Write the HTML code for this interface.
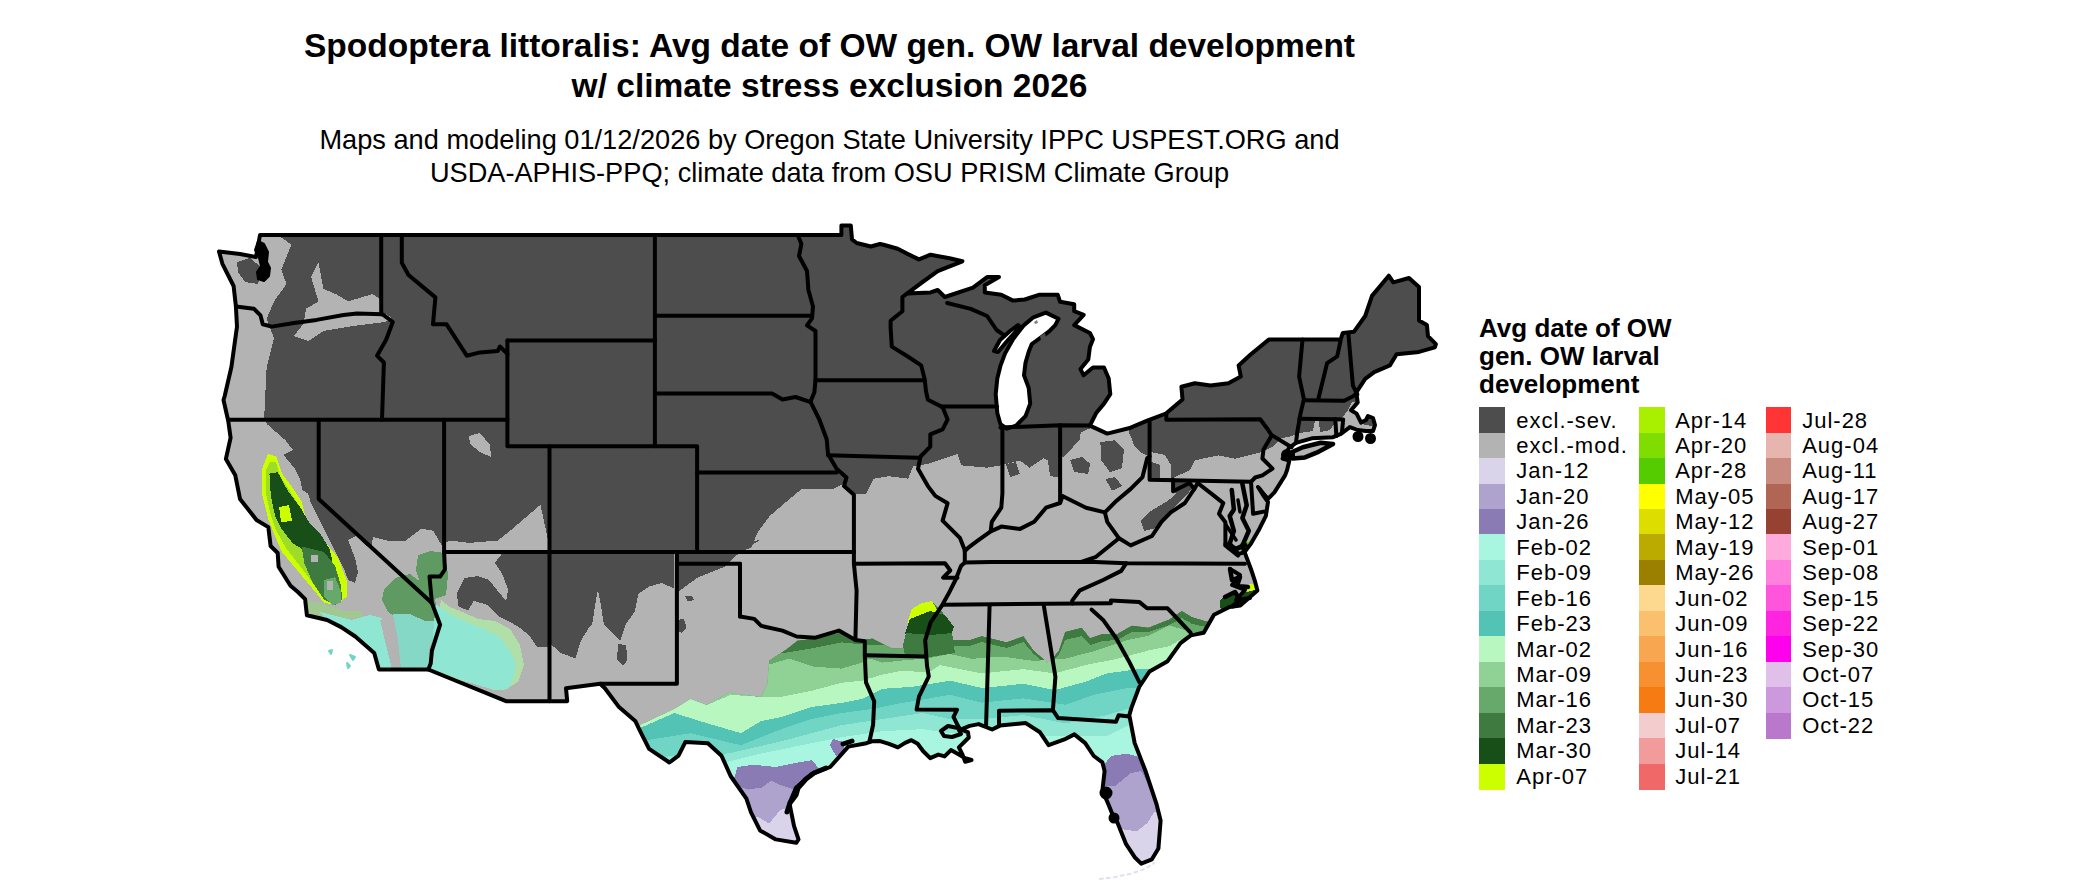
<!DOCTYPE html>
<html><head><meta charset="utf-8"><style>
html,body{margin:0;padding:0;background:#fff;width:2100px;height:892px;overflow:hidden;position:relative}
.t{position:absolute;font-family:"Liberation Sans",sans-serif;white-space:nowrap;color:#000;left:0;width:1659px;text-align:center}
.tb{font-weight:bold;font-size:33.5px}
.ts{font-size:27.2px}
.lg{position:absolute;font-family:"Liberation Sans",sans-serif;font-weight:bold;font-size:26px;left:1479px;line-height:27.9px;white-space:nowrap}
.sw{position:absolute;width:25.6px;height:26px}
.lt{position:absolute;font-family:"Liberation Sans",sans-serif;font-size:22px;letter-spacing:1.0px;line-height:28px;white-space:nowrap}
</style></head><body>
<div class="t tb" style="top:27px">Spodoptera littoralis: Avg date of OW gen. OW larval development</div>
<div class="t tb" style="top:66.7px">w/ climate stress exclusion 2026</div>
<div class="t ts" style="top:124px">Maps and modeling 01/12/2026 by Oregon State University IPPC USPEST.ORG and</div>
<div class="t ts" style="top:157px">USDA-APHIS-PPQ; climate data from OSU PRISM Climate Group</div>
<svg width="2100" height="892" viewBox="0 0 2100 892" style="position:absolute;left:0;top:0"><defs><clipPath id="lc"><path d="M219.0,251.5 L240.0,254.0 L256.0,257.0 L258.0,246.0 L260.0,235.0 L841.4,235.0 L841.4,225.5 L850.8,225.5 L852.0,239.4 L856.7,243.0 L870.8,246.5 L880.0,244.0 L883.5,244.8 L897.7,248.8 L907.0,253.6 L918.9,259.4 L930.6,254.7 L949.5,258.3 L962.4,261.3 L937.7,271.2 L921.2,283.0 L907.0,293.6 L930.6,292.4 L937.7,290.0 L944.8,297.0 L973.0,287.7 L987.1,277.1 L999.0,277.1 L984.8,285.3 L984.8,292.4 L1001.3,294.8 L1013.0,300.6 L1024.8,299.5 L1038.9,294.8 L1057.8,294.8 L1060.1,301.8 L1074.2,304.2 L1074.2,311.2 L1083.7,314.8 L1074.2,325.1 L1089.9,333.0 L1093.0,339.2 L1089.9,347.1 L1088.3,359.6 L1080.5,369.1 L1083.6,375.3 L1093.0,367.5 L1104.0,367.5 L1108.7,378.5 L1110.3,394.2 L1104.0,403.6 L1096.2,413.0 L1089.9,425.6 L1107.2,433.6 L1130.7,427.7 L1147.2,420.6 L1166.0,413.5 L1182.5,399.4 L1181.4,386.7 L1194.8,383.3 L1210.5,385.6 L1228.5,383.3 L1240.8,376.6 L1238.6,365.4 L1250.9,354.2 L1268.8,339.6 L1340.6,339.6 L1342.8,332.9 L1354.0,331.7 L1365.2,316.0 L1372.0,295.9 L1388.8,275.7 L1393.3,282.4 L1409.0,278.0 L1419.0,287.0 L1419.0,320.5 L1426.9,325.0 L1428.0,336.2 L1435.9,344.1 L1434.8,347.4 L1419.0,351.9 L1396.6,354.2 L1389.9,365.4 L1374.2,372.1 L1365.2,378.8 L1356.3,392.3 L1357.7,402.4 L1351.0,410.3 L1356.6,413.6 L1361.1,422.6 L1366.0,420.0 L1368.0,416.0 L1373.0,418.0 L1375.0,425.0 L1373.0,431.0 L1366.0,431.0 L1357.7,430.0 L1349.9,427.1 L1340.9,433.8 L1333.1,437.2 L1311.8,438.3 L1296.0,442.8 L1289.0,448.0 L1282.6,458.5 L1289.3,460.7 L1287.1,470.0 L1285.1,475.4 L1274.4,492.4 L1268.0,498.8 L1262.0,493.0 L1258.0,487.0 L1263.0,495.0 L1268.0,502.0 L1265.9,515.9 L1259.5,528.7 L1251.0,543.6 L1244.6,552.1 L1251.0,569.2 L1255.2,581.9 L1257.4,590.5 L1240.3,605.4 L1229.5,607.0 L1214.0,614.8 L1203.7,632.8 L1190.8,635.4 L1180.5,643.1 L1167.6,661.2 L1149.5,671.5 L1139.2,687.0 L1131.5,707.6 L1129.3,715.1 L1134.7,743.1 L1145.5,771.0 L1156.3,803.3 L1160.6,820.6 L1158.4,848.5 L1151.9,859.3 L1141.2,863.6 L1134.7,857.2 L1126.1,844.2 L1117.5,822.7 L1113.2,816.3 L1108.9,805.5 L1102.4,790.4 L1104.6,771.0 L1102.4,762.4 L1093.8,756.0 L1085.2,743.1 L1074.4,734.4 L1065.8,738.8 L1048.6,745.2 L1040.0,732.3 L1025.8,723.1 L1000.0,725.6 L992.1,729.5 L978.7,724.1 L969.7,725.9 L960.7,729.5 L967.9,732.2 L968.8,737.5 L958.9,747.4 L962.5,754.6 L965.2,761.7 L971.5,760.0 L965.2,758.2 L958.9,754.6 L950.9,750.1 L944.6,756.4 L938.3,754.6 L930.2,758.2 L923.0,751.0 L917.7,743.8 L911.4,740.2 L905.1,742.9 L897.9,747.4 L889.0,743.8 L880.0,741.1 L871.9,741.3 L866.4,743.2 L848.3,746.6 L830.2,767.0 L812.1,773.8 L796.2,787.4 L789.4,803.2 L794.0,825.9 L798.5,839.4 L796.2,842.8 L775.8,839.4 L760.0,830.4 L751.0,812.3 L746.4,798.7 L730.6,776.0 L721.5,755.7 L707.9,743.2 L685.3,742.1 L678.5,755.7 L669.4,762.5 L649.1,748.9 L640.0,730.8 L635.5,721.3 L619.0,707.1 L604.9,688.3 L600.2,683.8 L566.0,688.3 L567.2,701.2 L548.4,701.2 L506.0,701.2 L428.3,669.5 L378.9,669.5 L374.2,653.0 L355.3,636.5 L341.2,627.1 L327.1,620.0 L306.9,615.3 L305.1,599.2 L297.9,592.0 L290.5,585.7 L278.6,566.7 L277.7,553.0 L270.6,546.0 L268.3,527.1 L256.5,520.0 L240.0,498.9 L235.3,475.3 L225.9,458.9 L230.6,437.7 L228.3,421.2 L223.5,400.0 L224.7,396.0 L231.4,367.0 L237.0,326.6 L235.9,306.4 L233.6,286.0 L222.4,263.8Z"/></clipPath></defs><path d="M219.0,251.5 L240.0,254.0 L256.0,257.0 L258.0,246.0 L260.0,235.0 L841.4,235.0 L841.4,225.5 L850.8,225.5 L852.0,239.4 L856.7,243.0 L870.8,246.5 L880.0,244.0 L883.5,244.8 L897.7,248.8 L907.0,253.6 L918.9,259.4 L930.6,254.7 L949.5,258.3 L962.4,261.3 L937.7,271.2 L921.2,283.0 L907.0,293.6 L930.6,292.4 L937.7,290.0 L944.8,297.0 L973.0,287.7 L987.1,277.1 L999.0,277.1 L984.8,285.3 L984.8,292.4 L1001.3,294.8 L1013.0,300.6 L1024.8,299.5 L1038.9,294.8 L1057.8,294.8 L1060.1,301.8 L1074.2,304.2 L1074.2,311.2 L1083.7,314.8 L1074.2,325.1 L1089.9,333.0 L1093.0,339.2 L1089.9,347.1 L1088.3,359.6 L1080.5,369.1 L1083.6,375.3 L1093.0,367.5 L1104.0,367.5 L1108.7,378.5 L1110.3,394.2 L1104.0,403.6 L1096.2,413.0 L1089.9,425.6 L1107.2,433.6 L1130.7,427.7 L1147.2,420.6 L1166.0,413.5 L1182.5,399.4 L1181.4,386.7 L1194.8,383.3 L1210.5,385.6 L1228.5,383.3 L1240.8,376.6 L1238.6,365.4 L1250.9,354.2 L1268.8,339.6 L1340.6,339.6 L1342.8,332.9 L1354.0,331.7 L1365.2,316.0 L1372.0,295.9 L1388.8,275.7 L1393.3,282.4 L1409.0,278.0 L1419.0,287.0 L1419.0,320.5 L1426.9,325.0 L1428.0,336.2 L1435.9,344.1 L1434.8,347.4 L1419.0,351.9 L1396.6,354.2 L1389.9,365.4 L1374.2,372.1 L1365.2,378.8 L1356.3,392.3 L1357.7,402.4 L1351.0,410.3 L1356.6,413.6 L1361.1,422.6 L1366.0,420.0 L1368.0,416.0 L1373.0,418.0 L1375.0,425.0 L1373.0,431.0 L1366.0,431.0 L1357.7,430.0 L1349.9,427.1 L1340.9,433.8 L1333.1,437.2 L1311.8,438.3 L1296.0,442.8 L1289.0,448.0 L1282.6,458.5 L1289.3,460.7 L1287.1,470.0 L1285.1,475.4 L1274.4,492.4 L1268.0,498.8 L1262.0,493.0 L1258.0,487.0 L1263.0,495.0 L1268.0,502.0 L1265.9,515.9 L1259.5,528.7 L1251.0,543.6 L1244.6,552.1 L1251.0,569.2 L1255.2,581.9 L1257.4,590.5 L1240.3,605.4 L1229.5,607.0 L1214.0,614.8 L1203.7,632.8 L1190.8,635.4 L1180.5,643.1 L1167.6,661.2 L1149.5,671.5 L1139.2,687.0 L1131.5,707.6 L1129.3,715.1 L1134.7,743.1 L1145.5,771.0 L1156.3,803.3 L1160.6,820.6 L1158.4,848.5 L1151.9,859.3 L1141.2,863.6 L1134.7,857.2 L1126.1,844.2 L1117.5,822.7 L1113.2,816.3 L1108.9,805.5 L1102.4,790.4 L1104.6,771.0 L1102.4,762.4 L1093.8,756.0 L1085.2,743.1 L1074.4,734.4 L1065.8,738.8 L1048.6,745.2 L1040.0,732.3 L1025.8,723.1 L1000.0,725.6 L992.1,729.5 L978.7,724.1 L969.7,725.9 L960.7,729.5 L967.9,732.2 L968.8,737.5 L958.9,747.4 L962.5,754.6 L965.2,761.7 L971.5,760.0 L965.2,758.2 L958.9,754.6 L950.9,750.1 L944.6,756.4 L938.3,754.6 L930.2,758.2 L923.0,751.0 L917.7,743.8 L911.4,740.2 L905.1,742.9 L897.9,747.4 L889.0,743.8 L880.0,741.1 L871.9,741.3 L866.4,743.2 L848.3,746.6 L830.2,767.0 L812.1,773.8 L796.2,787.4 L789.4,803.2 L794.0,825.9 L798.5,839.4 L796.2,842.8 L775.8,839.4 L760.0,830.4 L751.0,812.3 L746.4,798.7 L730.6,776.0 L721.5,755.7 L707.9,743.2 L685.3,742.1 L678.5,755.7 L669.4,762.5 L649.1,748.9 L640.0,730.8 L635.5,721.3 L619.0,707.1 L604.9,688.3 L600.2,683.8 L566.0,688.3 L567.2,701.2 L548.4,701.2 L506.0,701.2 L428.3,669.5 L378.9,669.5 L374.2,653.0 L355.3,636.5 L341.2,627.1 L327.1,620.0 L306.9,615.3 L305.1,599.2 L297.9,592.0 L290.5,585.7 L278.6,566.7 L277.7,553.0 L270.6,546.0 L268.3,527.1 L256.5,520.0 L240.0,498.9 L235.3,475.3 L225.9,458.9 L230.6,437.7 L228.3,421.2 L223.5,400.0 L224.7,396.0 L231.4,367.0 L237.0,326.6 L235.9,306.4 L233.6,286.0 L222.4,263.8Z" fill="#4d4d4d"/><g clip-path="url(#lc)" shape-rendering="crispEdges"><path d="M200.0,232.0 L274.0,232.0 L291.3,244.7 L281.4,269.3 L286.4,284.1 L274.0,301.4 L266.6,318.7 L274.0,338.4 L266.6,368.0 L264.2,417.4 L266.7,423.8 L285.7,440.5 L292.9,450.0 L283.3,454.8 L295.2,469.0 L300.0,478.6 L302.4,490.5 L309.5,504.8 L316.7,519.0 L326.2,535.7 L333.3,547.6 L338.1,559.5 L347.6,571.4 L357.1,590.5 L366.7,604.8 L380.0,615.0 L380.0,700.0 L200.0,700.0Z" fill="#b3b3b3"/><path d="M311.0,276.7 L318.4,262.0 L323.4,289.0 L335.7,294.0 L348.0,301.4 L372.7,294.0 L380.0,299.0 L382.0,311.3 L392.0,318.0 L385.0,322.0 L353.0,326.0 L323.4,331.0 L308.6,341.0 L293.8,336.0 L303.6,323.6 L306.0,308.8 L318.4,301.4Z" fill="#b3b3b3"/><path d="M302.0,490.0 L317.3,498.5 L330.0,505.0 L346.6,506.6 L360.7,524.8 L372.8,536.9 L389.0,540.9 L405.1,540.9 L421.3,528.8 L433.4,530.8 L441.5,545.0 L450.0,540.5 L469.0,542.9 L497.6,540.5 L507.1,533.3 L523.8,519.0 L540.5,504.8 L547.6,538.1 L549.5,551.9 L676.9,551.9 L733.2,552.0 L737.7,552.3 L751.1,547.8 L757.8,532.1 L770.0,515.7 L787.3,500.9 L802.1,488.5 L834.1,488.5 L844.0,483.6 L853.9,493.5 L866.2,493.5 L873.6,478.7 L888.4,476.2 L908.1,478.7 L913.0,466.3 L927.8,463.9 L957.4,454.0 L961.2,465.3 L987.1,467.7 L1001.3,465.3 L1020.1,460.6 L1029.5,467.7 L1043.6,458.3 L1053.1,463.0 L1064.8,455.9 L1071.9,448.9 L1081.3,432.4 L1090.7,428.0 L1107.0,431.0 L1128.0,426.0 L1130.0,436.0 L1150.9,452.0 L1151.0,478.9 L1171.0,478.9 L1190.0,470.0 L1194.6,460.4 L1218.1,455.4 L1235.0,458.8 L1262.4,451.8 L1272.0,447.0 L1282.0,438.0 L1292.0,436.0 L1300.0,433.0 L1313.0,431.0 L1315.0,421.0 L1319.0,421.0 L1320.0,432.0 L1330.0,430.0 L1336.0,421.0 L1342.0,418.0 L1348.0,410.0 L1352.0,402.0 L1358.0,402.0 L1362.0,424.0 L1380.0,428.0 L1380.0,900.0 L200.0,900.0 L200.0,700.0 L380.0,700.0 L380.0,615.0 L366.7,604.8 L357.1,590.5 L347.6,571.4 L338.1,559.5 L326.2,535.7 L316.7,519.0 L309.5,504.8Z" fill="#b3b3b3"/><path d="M1385.0,373.0 L1396.0,366.0 L1408.0,365.0 L1420.0,353.0 L1400.0,354.0 L1390.0,364.0Z" fill="#b3b3b3"/><path d="M469.0,436.0 L480.0,433.0 L490.0,445.0 L491.0,457.0 L480.0,452.0 L470.0,444.0Z" fill="#b3b3b3"/><path d="M966.6,264.0 L975.0,258.0 L984.8,255.5 L983.0,260.0 L970.0,267.0Z" fill="#4d4d4d"/><path d="M237.0,262.0 L250.0,258.0 L262.0,268.0 L258.0,284.0 L245.0,282.0 L238.0,272.0Z" fill="#4d4d4d"/><path d="M1060.0,425.0 L1080.3,426.0 L1080.3,438.6 L1070.2,450.3 L1060.0,453.7Z" fill="#4d4d4d"/><path d="M676.0,620.0 L684.0,619.0 L686.6,628.0 L682.0,633.0 L676.0,630.0Z" fill="#4d4d4d"/><path d="M685.0,596.0 L692.0,595.6 L694.0,600.0 L688.0,601.5Z" fill="#4d4d4d"/><path d="M297.9,470.0 L305.7,485.7 L310.4,501.4 L318.3,517.1 L324.5,529.7 L330.8,542.2 L337.1,554.8 L343.4,567.3 L348.1,579.9 L355.0,583.0 L358.0,572.0 L355.0,558.0 L348.0,540.0 L356.0,536.0 L373.2,551.6 L318.7,499.0 L317.0,470.0Z" fill="#4d4d4d"/><path d="M317.3,498.5 L346.6,506.6 L360.7,524.8 L372.8,536.9 L371.6,548.0 L341.6,520.0Z" fill="#4d4d4d"/><path d="M502.4,553.3 L548.2,553.3 L548.2,646.7 L536.7,646.7 L529.1,635.3 L519.6,627.7 L510.0,622.0 L498.6,616.2 L487.2,604.8 L473.8,601.0 L468.1,610.5 L458.6,606.7 L456.7,593.4 L464.3,578.1 L477.6,576.2 L489.1,580.0 L496.7,589.6 L506.2,601.0 L508.1,589.6 L502.4,574.3 L494.8,562.9Z" fill="#4d4d4d"/><path d="M549.5,551.9 L674.0,551.9 L674.2,588.4 L661.6,583.0 L649.0,586.6 L638.3,593.8 L634.7,611.8 L625.7,624.3 L620.3,640.5 L604.0,625.0 L600.0,600.0 L598.0,590.0 L596.0,600.0 L592.0,625.0 L589.9,626.1 L580.9,640.5 L575.5,658.4 L561.1,653.0 L550.4,644.0Z" fill="#4d4d4d"/><path d="M618.0,644.0 L626.0,645.0 L627.5,660.0 L623.0,666.0 L617.0,660.0Z" fill="#4d4d4d"/><path d="M676.9,552.0 L760.3,540.0 L751.3,545.4 L735.2,556.1 L724.4,566.9 L697.5,577.7 L677.8,592.0Z" fill="#4d4d4d"/><path d="M1171.0,480.6 L1189.5,480.6 L1194.0,486.0 L1184.5,497.4 L1171.0,510.9 L1157.6,527.7 L1144.1,531.0 L1140.8,521.0 L1150.9,510.9 L1167.7,500.8 L1176.0,494.1Z" fill="#4d4d4d"/><path d="M1070.2,460.0 L1082.0,457.0 L1090.3,464.0 L1088.0,473.9 L1074.0,472.0Z" fill="#4d4d4d"/><path d="M1100.4,442.0 L1115.0,440.3 L1124.0,450.0 L1122.0,468.0 L1110.0,472.2 L1101.0,460.0Z" fill="#4d4d4d"/><path d="M1130.7,435.2 L1150.9,430.0 L1150.9,457.0 L1140.0,452.0 L1134.0,445.0Z" fill="#4d4d4d"/><path d="M1105.5,479.0 L1115.0,477.2 L1122.3,486.0 L1112.0,490.7Z" fill="#4d4d4d"/><path d="M1006.0,464.0 L1016.0,462.0 L1020.0,474.0 L1010.0,477.0Z" fill="#4d4d4d"/><path d="M1048.0,461.0 L1060.0,458.0 L1060.0,478.0 L1050.0,476.0Z" fill="#4d4d4d"/><path d="M1150.9,452.0 L1165.0,455.0 L1171.0,465.0 L1171.0,478.0 L1160.0,478.0 L1160.0,465.0 L1151.0,462.0Z" fill="#b3b3b3"/><path d="M451.0,557.0 L468.0,557.0 L468.0,576.0 L451.0,576.0Z" fill="#b3b3b3"/><path d="M475.7,555.0 L492.9,555.0 L492.9,568.6 L475.7,568.6Z" fill="#b3b3b3"/><clipPath id="gc"><path d="M600.0,730.0 L640.0,725.1 L674.3,709.0 L690.5,698.9 L706.6,705.0 L728.8,692.8 L761.1,696.9 L767.1,684.8 L769.2,660.5 L787.3,648.4 L797.4,640.4 L815.6,638.3 L841.8,632.3 L858.0,640.4 L872.1,638.3 L892.3,648.4 L906.4,648.4 L910.4,620.2 L918.5,606.1 L932.6,602.0 L942.7,612.1 L950.0,626.2 L952.5,640.0 L969.2,640.0 L981.7,635.9 L1006.7,642.1 L1023.4,635.9 L1033.8,650.5 L1048.4,663.0 L1058.8,650.5 L1065.1,631.7 L1081.8,627.5 L1090.1,637.9 L1102.6,633.8 L1117.2,633.8 L1131.8,625.4 L1148.5,627.5 L1169.3,619.2 L1181.8,610.8 L1192.2,617.1 L1206.8,621.3 L1300.0,621.0 L1300.0,900.0 L600.0,900.0Z"/></clipPath><g clip-path="url(#gc)"><path d="M600.0,730.0 L640.0,725.1 L674.3,709.0 L690.5,698.9 L706.6,705.0 L728.8,692.8 L761.1,696.9 L767.1,684.8 L769.2,660.5 L787.3,648.4 L797.4,640.4 L815.6,638.3 L841.8,632.3 L858.0,640.4 L872.1,638.3 L892.3,648.4 L906.4,648.4 L910.4,620.2 L918.5,606.1 L932.6,602.0 L942.7,612.1 L950.0,626.2 L952.5,640.0 L969.2,640.0 L981.7,635.9 L1006.7,642.1 L1023.4,635.9 L1033.8,650.5 L1048.4,663.0 L1058.8,650.5 L1065.1,631.7 L1081.8,627.5 L1090.1,637.9 L1102.6,633.8 L1117.2,633.8 L1131.8,625.4 L1148.5,627.5 L1169.3,619.2 L1181.8,610.8 L1192.2,617.1 L1206.8,621.3 L1300.0,621.0 L1300.0,900.0 L600.0,900.0Z" fill="#3f7a40"/><path d="M600.0,700.0 L769.0,655.0 L787.3,652.5 L811.5,648.4 L841.8,642.4 L862.0,644.4 L906.4,646.4 L926.6,652.5 L940.0,646.0 L952.5,646.0 L969.2,646.0 L981.7,642.0 L1006.7,648.0 L1023.4,642.0 L1033.8,654.0 L1048.4,666.0 L1058.8,655.0 L1065.1,640.0 L1081.8,636.0 L1090.1,645.0 L1102.6,641.0 L1117.2,640.0 L1131.8,632.0 L1148.5,632.0 L1169.3,625.0 L1181.8,618.0 L1192.2,624.0 L1206.8,627.0 L1300.0,630.0 L1300.0,900.0 L600.0,900.0Z" fill="#67a86b"/><path d="M600.0,710.0 L769.2,664.6 L789.3,658.5 L813.6,666.6 L841.8,668.6 L862.0,662.6 L870.0,658.5 L882.2,662.6 L902.4,660.5 L926.6,658.5 L950.0,654.0 L971.3,658.8 L1002.5,656.7 L1033.8,660.9 L1065.1,658.8 L1096.3,650.5 L1127.6,640.0 L1148.5,635.9 L1169.3,625.4 L1190.2,631.7 L1300.0,635.0 L1300.0,900.0 L600.0,900.0Z" fill="#90d195"/><path d="M600.0,725.0 L640.0,725.1 L674.3,709.0 L690.5,698.9 L706.6,705.0 L730.8,694.9 L761.1,696.9 L781.3,696.9 L811.5,690.8 L841.8,682.7 L862.0,680.7 L882.2,674.7 L902.4,670.6 L928.6,672.7 L940.0,665.0 L981.7,673.4 L1023.4,669.2 L1054.7,673.4 L1085.9,665.0 L1117.2,658.8 L1148.5,650.5 L1169.3,646.3 L1179.7,640.0 L1300.0,640.0 L1300.0,900.0 L600.0,900.0Z" fill="#b9f7c0"/><path d="M600.0,740.0 L640.0,728.0 L674.3,713.0 L706.6,723.1 L740.9,733.2 L761.1,721.1 L781.3,717.1 L811.5,707.0 L841.8,702.9 L862.0,698.9 L882.2,688.8 L912.4,686.8 L950.0,680.7 L981.7,688.0 L1023.4,683.8 L1054.7,690.1 L1085.9,681.7 L1106.8,673.4 L1138.0,669.2 L1300.0,665.0 L1300.0,900.0 L600.0,900.0Z" fill="#52c3b4"/><path d="M600.0,745.0 L640.0,741.3 L690.5,733.2 L740.9,745.3 L781.3,729.2 L811.5,719.1 L841.8,713.0 L872.1,709.0 L902.4,702.9 L950.0,694.9 L981.7,702.6 L1023.4,698.4 L1065.1,704.7 L1096.3,694.2 L1127.6,688.0 L1300.0,680.0 L1300.0,900.0 L600.0,900.0Z" fill="#70d5c5"/><path d="M600.0,760.0 L728.8,753.4 L781.3,741.3 L811.5,733.2 L841.8,725.1 L882.2,719.1 L922.5,713.0 L950.0,719.1 L981.7,719.2 L1023.4,715.1 L1065.1,723.4 L1106.8,715.1 L1127.6,708.8 L1300.0,700.0 L1300.0,900.0 L600.0,900.0Z" fill="#8fe6d2"/><path d="M600.0,770.0 L728.8,761.5 L761.1,753.4 L801.5,745.3 L841.8,737.2 L882.2,731.2 L922.5,729.2 L950.0,733.2 L1000.0,735.0 L1065.1,735.9 L1106.8,735.9 L1127.6,725.5 L1300.0,720.0 L1300.0,900.0 L600.0,900.0Z" fill="#a8f5e0"/></g><path d="M700.0,900.0 L737.4,767.0 L753.2,764.7 L775.8,767.0 L798.5,762.5 L812.1,760.2 L820.0,770.0 L810.0,900.0Z" fill="#8a7bb4"/><path d="M829.7,745.0 L833.0,739.0 L843.8,742.1 L845.0,752.0 L836.0,756.0Z" fill="#8a7bb4"/><path d="M1090.0,900.0 L1100.0,770.0 L1111.0,756.0 L1126.0,753.8 L1137.0,756.0 L1143.3,764.6 L1149.8,775.3 L1170.0,780.0 L1170.0,900.0Z" fill="#8a7bb4"/><path d="M700.0,900.0 L735.1,785.1 L748.7,789.6 L762.3,787.4 L771.3,780.6 L780.4,785.1 L794.0,789.6 L803.0,780.6 L812.0,778.3 L830.0,775.0 L830.0,900.0Z" fill="#ada3cc"/><path d="M1090.0,900.0 L1095.0,790.0 L1104.6,786.1 L1115.3,786.1 L1130.4,773.2 L1141.2,771.0 L1152.0,790.4 L1170.0,795.0 L1170.0,900.0Z" fill="#ada3cc"/><path d="M720.0,900.0 L750.0,818.0 L757.7,816.8 L769.1,823.6 L780.4,810.0 L794.0,805.5 L810.0,805.0 L810.0,900.0Z" fill="#dad4ea"/><path d="M1100.0,900.0 L1110.0,830.0 L1121.8,829.2 L1136.9,831.3 L1147.6,822.7 L1154.1,812.0 L1170.0,810.0 L1170.0,900.0Z" fill="#dad4ea"/><path d="M907.0,623.0 L912.0,609.0 L922.0,603.0 L932.0,601.0 L938.0,611.0 L942.0,619.0 L930.0,625.0Z" fill="#ccff00"/><path d="M905.0,633.0 L910.0,619.0 L930.0,611.0 L945.0,615.0 L954.0,627.0 L950.0,639.0 L930.0,642.0 L908.0,641.0Z" fill="#184f18"/><path d="M903.0,645.0 L906.0,633.0 L930.0,635.0 L952.0,633.0 L955.0,653.0 L930.0,657.0 L905.0,655.0Z" fill="#3f7a40"/><path d="M268.0,454.0 L276.4,456.8 L282.0,473.6 L290.4,484.8 L301.6,501.6 L307.2,524.0 L324.0,540.9 L338.0,557.7 L346.5,580.0 L346.5,596.9 L335.2,605.3 L324.0,602.5 L310.0,585.7 L296.0,568.9 L282.0,552.0 L273.6,532.5 L268.0,518.4 L262.4,496.0 L262.4,468.0Z" fill="#ccff00"/><path d="M270.0,462.0 L276.0,462.0 L280.0,476.0 L288.0,488.0 L298.0,504.0 L304.0,524.0 L318.0,540.0 L330.0,556.0 L338.0,575.0 L340.0,592.0 L330.0,600.0 L318.0,590.0 L300.0,566.0 L286.0,548.0 L276.0,530.0 L270.0,512.0 L266.0,494.0 L266.0,470.0Z" fill="#9fdc2a"/><path d="M269.4,473.6 L277.8,472.2 L287.6,490.4 L300.2,507.2 L310.0,524.0 L321.2,535.2 L329.6,549.3 L332.4,560.5 L321.2,560.5 L307.2,552.0 L293.2,543.7 L282.0,529.6 L275.0,515.6 L270.8,496.0Z" fill="#184f18"/><path d="M279.2,507.2 L289.0,505.0 L292.0,521.0 L281.0,522.0Z" fill="#ccff00"/><path d="M301.6,546.5 L324.0,552.0 L335.2,566.0 L340.9,585.7 L342.3,599.7 L335.2,605.3 L324.0,599.7 L312.8,582.9 L304.4,563.3Z" fill="#3f7a40"/><path d="M324.0,580.0 L335.2,577.3 L340.9,591.3 L340.9,602.5 L332.4,605.3 L324.0,596.9Z" fill="#67a86b"/><path d="M311.0,555.0 L318.0,555.0 L318.0,562.0 L311.0,562.0Z" fill="#b3b3b3"/><path d="M327.0,581.0 L333.0,581.0 L333.0,590.0 L327.0,590.0Z" fill="#b3b3b3"/><path d="M305.0,600.0 L320.0,603.0 L345.0,611.0 L362.0,611.0 L362.0,618.0 L335.0,619.0 L310.0,614.0Z" fill="#a0c890"/><path d="M320.0,612.0 L351.7,620.0 L369.7,615.0 L382.0,618.0 L386.0,635.0 L392.0,672.0 L370.0,672.0 L330.0,625.0Z" fill="#8fe6d2"/><path d="M380.0,620.0 L389.0,617.0 L397.0,640.0 L400.0,669.0 L392.0,669.0 L386.0,645.0Z" fill="#b3b3b3"/><path d="M384.0,590.0 L395.0,578.0 L410.0,574.0 L425.0,585.0 L435.0,600.0 L442.0,622.0 L430.0,628.0 L415.0,618.0 L400.0,620.0 L388.0,612.0 L382.0,600.0Z" fill="#5f9a62"/><path d="M393.0,614.0 L410.0,614.0 L425.0,621.0 L438.0,621.0 L441.0,624.0 L434.0,637.0 L429.0,648.0 L430.0,658.0 L427.0,669.0 L401.0,669.0 L398.0,640.0Z" fill="#86d8c6"/><path d="M441.0,600.0 L450.0,607.0 L465.0,613.0 L478.0,619.0 L495.0,621.0 L510.0,629.0 L520.0,645.0 L524.0,665.0 L518.0,682.0 L504.0,690.0 L430.0,674.0Z" fill="#b0dfa8"/><path d="M435.7,604.0 L449.1,613.4 L464.3,621.0 L483.4,628.7 L498.6,636.3 L508.0,647.7 L515.7,662.0 L513.8,677.2 L508.0,688.6 L494.8,690.5 L430.0,669.5Z" fill="#8fe6d2"/><path d="M418.0,555.0 L430.0,551.0 L445.0,553.0 L448.0,575.0 L446.0,595.0 L432.0,600.0 L422.0,590.0 L416.0,570.0Z" fill="#5f9a62"/><path d="M1240.0,589.0 L1250.0,584.0 L1256.0,585.0 L1259.0,590.0 L1258.0,597.0 L1254.0,590.0 L1244.0,592.0Z" fill="#ccff00"/><path d="M1219.6,601.0 L1225.9,595.6 L1238.4,593.8 L1254.6,590.2 L1257.3,595.6 L1252.8,601.0 L1240.2,608.2 L1227.7,611.7 L1220.5,608.2Z" fill="#184f18"/><path d="M1240.0,543.0 L1252.0,541.0 L1253.0,550.0 L1246.0,553.0 L1240.0,550.0Z" fill="#55cc00"/></g><path d="M1045.9,312.6 L1058.5,318.8 L1055.3,325.1 L1049.1,331.4 L1042.8,336.1 L1031.8,344.0 L1028.7,351.8 L1025.5,362.8 L1024.0,375.3 L1028.7,387.9 L1030.2,403.6 L1025.5,416.1 L1016.1,425.6 L1006.7,428.7 L1000.4,424.0 L997.3,413.0 L995.7,394.2 L997.3,378.5 L1000.4,365.9 L1005.1,353.4 L1013.0,339.2 L1024.0,325.1 L1033.4,317.3Z" fill="#fff" stroke="#000" stroke-width="4" stroke-linejoin="round"/><path d="M994.0,351.0 L1000.0,340.0 L1010.0,331.0 L1018.0,325.0 L1020.0,327.0 L1008.0,340.0 L998.0,352.0Z" fill="#fff" stroke="#000" stroke-width="4" stroke-linejoin="round"/><g fill="none" stroke="#000" stroke-width="4" stroke-linejoin="round" stroke-linecap="round"><path d="M235.9,306.4 L253.8,308.7 L260.5,315.4 L262.8,324.3 L271.7,326.6 L294.0,323.0 L316.6,319.9 L343.5,315.0 L357.0,313.6 L382.7,314.3"/><path d="M381.2,235.0 L381.2,314.3"/><path d="M382.7,314.3 L392.8,322.0 L386.0,340.0 L377.0,355.7 L383.9,362.5 L382.0,419.8"/><path d="M401.8,235.0 L401.8,262.7 L408.5,275.0 L435.4,297.4 L433.0,324.3 L446.6,324.3 L466.8,355.7 L480.0,352.4 L497.7,351.0 L500.0,346.5 L507.4,353.8"/><path d="M228.3,419.8 L507.4,419.8"/><path d="M318.7,419.8 L318.7,499.0 L431.9,603.0"/><path d="M444.1,419.8 L444.1,551.9 L444.9,569.5 L440.1,576.6 L429.5,576.6 L431.9,603.0 L440.1,624.7 L431.9,650.6 L430.7,663.6 L428.3,669.5"/><path d="M507.4,340.6 L507.4,446.2 L549.5,446.2 L549.5,701.2"/><path d="M444.1,551.9 L853.9,551.9"/><path d="M507.4,340.6 L654.9,340.6"/><path d="M654.9,235.0 L654.9,446.2"/><path d="M549.5,446.2 L697.1,446.2 L697.1,551.9"/><path d="M697.1,472.6 L836.6,472.6"/><path d="M654.9,315.8 L812.0,315.8"/><path d="M654.9,393.4 L772.0,393.4 L782.5,399.5 L795.5,397.0 L810.7,402.2"/><path d="M797.8,235.0 L801.4,244.0 L799.0,256.0 L807.0,271.0 L808.4,290.0 L813.0,306.5 L812.0,318.3 L807.0,325.4 L815.5,331.0 L815.5,379.5 L814.4,392.3 L810.7,401.0"/><path d="M815.5,380.2 L924.7,380.2"/><path d="M810.7,402.2 L819.3,419.5 L826.7,439.2 L828.0,454.0 L836.6,468.8 L846.5,477.4 L844.0,486.1 L853.9,494.7 L853.9,563.7 L856.6,590.6 L855.4,640.0 L864.8,641.2 L864.8,655.3 L866.0,682.4 L874.2,701.3 L873.1,724.8 L869.5,741.3"/><path d="M828.0,455.2 L918.0,457.7"/><path d="M853.9,563.7 L945.0,563.3 L950.3,570.5 L943.1,577.7 L957.5,577.7"/><path d="M907.0,293.6 L902.4,297.0 L902.4,311.2 L890.6,320.7 L890.6,327.7 L891.8,346.6 L907.0,356.0 L921.2,365.4 L924.7,379.5 L926.0,391.3 L927.9,399.7 L942.6,407.1 L947.6,419.5 L942.6,429.3 L930.3,434.3 L930.3,446.6 L920.5,456.5 L918.0,468.8 L927.9,486.1 L935.3,495.9 L947.6,503.3 L942.6,520.6 L959.9,537.8 L964.8,550.2 L964.8,562.5 L961.0,566.0 L955.7,579.5 L948.5,593.8 L941.4,606.4 L930.6,622.5 L925.2,640.4 L927.0,665.6 L928.8,676.3 L919.0,696.6 L916.6,709.5 L957.1,709.7 L953.5,716.9 L958.0,725.9 L960.7,730.0"/><path d="M864.8,655.3 L926.0,656.5"/><path d="M740.0,616.5 L754.2,618.9 L761.2,625.9 L782.4,630.6 L796.6,636.5 L815.4,637.7 L838.9,630.6 L855.4,640.0"/><path d="M740.0,563.7 L740.0,616.5"/><path d="M676.9,563.7 L740.0,563.7"/><path d="M676.9,551.9 L676.9,683.8 L600.2,683.8"/><path d="M941.0,406.6 L997.0,406.6"/><path d="M947.1,303.0 L970.7,308.9 L987.1,316.0 L996.6,330.0 L1003.6,334.8"/><path d="M1002.4,427.7 L1002.4,493.6 L1001.3,507.7 L991.8,521.8 L990.7,531.3"/><path d="M964.8,551.0 L968.3,547.7 L977.7,540.7 L990.7,531.3 L1001.3,526.6 L1020.1,528.9 L1034.2,521.8 L1046.0,507.7 L1060.1,503.0 L1062.5,496.0 L1071.9,500.7 L1086.0,507.7 L1104.9,512.4 L1116.6,500.7 L1130.7,488.9 L1142.5,477.1 L1147.2,458.3 L1149.6,456.3"/><path d="M1060.1,425.3 L1060.1,500.7"/><path d="M1000.4,427.5 L1060.1,425.3 L1089.9,425.6"/><path d="M1149.6,420.6 L1149.6,479.7 L1251.0,481.8"/><path d="M964.8,562.5 L990.7,561.9 L1095.0,561.9 L1126.0,563.2 L1245.0,563.8"/><path d="M1104.9,512.4 L1107.2,521.8 L1119.0,538.3 L1095.4,557.2 L1081.3,561.9"/><path d="M1119.0,538.3 L1130.7,545.4 L1152.0,536.0 L1161.4,521.8 L1170.8,512.4 L1184.9,503.0 L1194.3,488.9 L1189.6,483.0 L1173.1,491.2 L1173.1,479.5"/><path d="M1194.3,488.9 L1197.7,483.0 L1212.6,494.6 L1223.3,503.1 L1219.0,513.8 L1225.4,522.3 L1225.4,535.1 L1225.4,545.7 L1238.2,554.2 L1244.6,552.1"/><path d="M1251.0,481.8 L1253.1,513.8 L1263.8,511.6"/><path d="M1271.4,436.1 L1263.5,449.5 L1262.4,458.5 L1272.5,468.6 L1262.4,475.3 L1255.2,477.5 L1251.0,481.8"/><path d="M1166.3,413.8 L1166.3,419.8 L1260.2,419.2 L1266.9,428.2 L1271.4,434.9 L1291.6,447.3"/><path d="M1302.5,339.6 L1299.1,376.6 L1303.9,399.1 L1300.5,413.6 L1297.2,432.7 L1296.0,442.8"/><path d="M1340.6,340.7 L1337.2,356.4 L1327.1,363.1 L1318.2,399.5"/><path d="M1348.4,334.0 L1352.9,385.6 L1357.4,394.5"/><path d="M1303.9,400.2 L1344.3,400.7 L1352.1,396.8 L1356.6,393.5"/><path d="M1299.4,418.7 L1335.3,419.2 L1343.2,419.4 L1342.0,431.6"/><path d="M1335.3,419.2 L1336.4,436.1"/><path d="M943.0,604.7 L1110.9,603.2"/><path d="M1110.9,600.6 L1139.2,601.9 L1147.0,608.3 L1167.6,608.3 L1190.8,632.8"/><path d="M1126.3,563.2 L1121.2,570.9 L1103.1,580.0 L1079.9,590.3 L1072.2,600.6 L1072.2,603.5"/><path d="M1091.5,609.6 L1103.1,619.9 L1116.0,638.0 L1128.9,661.2 L1139.2,681.8"/><path d="M1043.8,605.5 L1055.4,676.7 L1052.9,710.2"/><path d="M999.0,724.0 L999.0,710.7 L1052.9,710.2 L1058.0,717.9 L1116.0,721.8 L1118.6,715.3 L1128.9,716.6"/><path d="M989.6,605.0 L986.1,724.8"/><path d="M219.0,251.5 L240.0,254.0 L256.0,257.0 L258.0,246.0 L260.0,235.0 L841.4,235.0 L841.4,225.5 L850.8,225.5 L852.0,239.4 L856.7,243.0 L870.8,246.5 L880.0,244.0 L883.5,244.8 L897.7,248.8 L907.0,253.6 L918.9,259.4 L930.6,254.7 L949.5,258.3 L962.4,261.3 L937.7,271.2 L921.2,283.0 L907.0,293.6 L930.6,292.4 L937.7,290.0 L944.8,297.0 L973.0,287.7 L987.1,277.1 L999.0,277.1 L984.8,285.3 L984.8,292.4 L1001.3,294.8 L1013.0,300.6 L1024.8,299.5 L1038.9,294.8 L1057.8,294.8 L1060.1,301.8 L1074.2,304.2 L1074.2,311.2 L1083.7,314.8 L1074.2,325.1 L1089.9,333.0 L1093.0,339.2 L1089.9,347.1 L1088.3,359.6 L1080.5,369.1 L1083.6,375.3 L1093.0,367.5 L1104.0,367.5 L1108.7,378.5 L1110.3,394.2 L1104.0,403.6 L1096.2,413.0 L1089.9,425.6 L1107.2,433.6 L1130.7,427.7 L1147.2,420.6 L1166.0,413.5 L1182.5,399.4 L1181.4,386.7 L1194.8,383.3 L1210.5,385.6 L1228.5,383.3 L1240.8,376.6 L1238.6,365.4 L1250.9,354.2 L1268.8,339.6 L1340.6,339.6 L1342.8,332.9 L1354.0,331.7 L1365.2,316.0 L1372.0,295.9 L1388.8,275.7 L1393.3,282.4 L1409.0,278.0 L1419.0,287.0 L1419.0,320.5 L1426.9,325.0 L1428.0,336.2 L1435.9,344.1 L1434.8,347.4 L1419.0,351.9 L1396.6,354.2 L1389.9,365.4 L1374.2,372.1 L1365.2,378.8 L1356.3,392.3 L1357.7,402.4 L1351.0,410.3 L1356.6,413.6 L1361.1,422.6 L1366.0,420.0 L1368.0,416.0 L1373.0,418.0 L1375.0,425.0 L1373.0,431.0 L1366.0,431.0 L1357.7,430.0 L1349.9,427.1 L1340.9,433.8 L1333.1,437.2 L1311.8,438.3 L1296.0,442.8 L1289.0,448.0 L1282.6,458.5 L1289.3,460.7 L1287.1,470.0 L1285.1,475.4 L1274.4,492.4 L1268.0,498.8 L1262.0,493.0 L1258.0,487.0 L1263.0,495.0 L1268.0,502.0 L1265.9,515.9 L1259.5,528.7 L1251.0,543.6 L1244.6,552.1 L1251.0,569.2 L1255.2,581.9 L1257.4,590.5 L1240.3,605.4 L1229.5,607.0 L1214.0,614.8 L1203.7,632.8 L1190.8,635.4 L1180.5,643.1 L1167.6,661.2 L1149.5,671.5 L1139.2,687.0 L1131.5,707.6 L1129.3,715.1 L1134.7,743.1 L1145.5,771.0 L1156.3,803.3 L1160.6,820.6 L1158.4,848.5 L1151.9,859.3 L1141.2,863.6 L1134.7,857.2 L1126.1,844.2 L1117.5,822.7 L1113.2,816.3 L1108.9,805.5 L1102.4,790.4 L1104.6,771.0 L1102.4,762.4 L1093.8,756.0 L1085.2,743.1 L1074.4,734.4 L1065.8,738.8 L1048.6,745.2 L1040.0,732.3 L1025.8,723.1 L1000.0,725.6 L992.1,729.5 L978.7,724.1 L969.7,725.9 L960.7,729.5 L967.9,732.2 L968.8,737.5 L958.9,747.4 L962.5,754.6 L965.2,761.7 L971.5,760.0 L965.2,758.2 L958.9,754.6 L950.9,750.1 L944.6,756.4 L938.3,754.6 L930.2,758.2 L923.0,751.0 L917.7,743.8 L911.4,740.2 L905.1,742.9 L897.9,747.4 L889.0,743.8 L880.0,741.1 L871.9,741.3 L866.4,743.2 L848.3,746.6 L830.2,767.0 L812.1,773.8 L796.2,787.4 L789.4,803.2 L794.0,825.9 L798.5,839.4 L796.2,842.8 L775.8,839.4 L760.0,830.4 L751.0,812.3 L746.4,798.7 L730.6,776.0 L721.5,755.7 L707.9,743.2 L685.3,742.1 L678.5,755.7 L669.4,762.5 L649.1,748.9 L640.0,730.8 L635.5,721.3 L619.0,707.1 L604.9,688.3 L600.2,683.8 L566.0,688.3 L567.2,701.2 L548.4,701.2 L506.0,701.2 L428.3,669.5 L378.9,669.5 L374.2,653.0 L355.3,636.5 L341.2,627.1 L327.1,620.0 L306.9,615.3 L305.1,599.2 L297.9,592.0 L290.5,585.7 L278.6,566.7 L277.7,553.0 L270.6,546.0 L268.3,527.1 L256.5,520.0 L240.0,498.9 L235.3,475.3 L225.9,458.9 L230.6,437.7 L228.3,421.2 L223.5,400.0 L224.7,396.0 L231.4,367.0 L237.0,326.6 L235.9,306.4 L233.6,286.0 L222.4,263.8Z"/><path d="M1226,544 L1236,549 L1245,545" stroke-width="5"/><path d="M1230,569 L1232,580 L1240,577 L1237,586 L1248,587" stroke-width="4.5"/><path d="M1225,597 L1235,592 L1240,600 L1233,606" stroke-width="4.5"/><path d="M329,651 L332,650 L331,654Z M350,655 L355,657 L353,660Z M347,663 L350,666 L348,668Z" fill="#70d5c5" stroke="#70d5c5" stroke-width="2"/><path d="M1040,336 L1045,333 L1047,342 L1042,345Z" fill="#4d4d4d" stroke="none"/><path d="M1034,322 L1037,320 L1038,323 L1035,324Z" fill="#808080" stroke="none"/><circle cx="1287" cy="455" r="4" fill="#000"/><circle cx="1358" cy="436.5" r="3.5" fill="#000"/><circle cx="1370.5" cy="438.5" r="3.5" fill="#000"/><path d="M941,731 L948,726 L958,728 L961,734 L952,737 L944,736Z"/><path d="M787,812 L790,803 L796,795 L798,788 L806,779 L814,773 L826,768" stroke-width="5"/><path d="M843,744 L852,741" stroke-width="5"/><circle cx="1106" cy="793" r="4.5" fill="#000"/><circle cx="1114" cy="818" r="3.5" fill="#000"/><path d="M1100,879 L1115,877 L1130,874 L1145,869 L1154,863" stroke="#e4dff0" stroke-width="2" stroke-dasharray="3 4"/><path d="M1292.7,451.8 L1302.8,447.3 L1320.7,442.8 L1333.1,443.9 L1318.5,451.8 L1305,457.4 L1292.7,458.5Z" fill="#b3b3b3" stroke-width="4.5"/><path d="M1231.8,490 L1233.9,509.5 L1229.7,515.9 L1233.9,530.8 L1229.7,543.6 L1238.2,554.2" stroke-width="4.5"/><path d="M1242.4,484 L1246.7,505.2 L1242.4,518 L1248.8,530.8 L1242.4,545.7 L1244.6,552.1" stroke-width="4.5"/><path d="M1226,525 L1236,540 M1228,548 L1238,556 M1238,500 L1240,512" stroke-width="3.5"/><path d="M1259,488 L1266,497"/><path d="M1230,569 L1240,575 L1232,585 L1245,590 L1236,600 L1250,598"/><path d="M258,241 L264,244 L268,252 L267,262 L270,268 L269,276 L264,281 L258,279 L257,272 L261,266 L259,258 L255,250Z" fill="#000" stroke="#000" stroke-width="2"/></g></svg>
<div class="lg" style="top:315px">Avg date of OW<br>gen. OW larval<br>development</div>
<div class="sw" style="left:1479.2px;top:407.20px;background:#4d4d4d"></div><div class="lt" style="left:1516.3px;top:406.50px">excl.-sev.</div><div class="sw" style="left:1479.2px;top:432.65px;background:#b3b3b3"></div><div class="lt" style="left:1516.3px;top:431.95px">excl.-mod.</div><div class="sw" style="left:1479.2px;top:458.10px;background:#dad4ea"></div><div class="lt" style="left:1516.3px;top:457.40px">Jan-12</div><div class="sw" style="left:1479.2px;top:483.55px;background:#ada3cc"></div><div class="lt" style="left:1516.3px;top:482.85px">Jan-20</div><div class="sw" style="left:1479.2px;top:509.00px;background:#8a7bb4"></div><div class="lt" style="left:1516.3px;top:508.30px">Jan-26</div><div class="sw" style="left:1479.2px;top:534.45px;background:#a8f5e0"></div><div class="lt" style="left:1516.3px;top:533.75px">Feb-02</div><div class="sw" style="left:1479.2px;top:559.90px;background:#8fe6d2"></div><div class="lt" style="left:1516.3px;top:559.20px">Feb-09</div><div class="sw" style="left:1479.2px;top:585.35px;background:#70d5c5"></div><div class="lt" style="left:1516.3px;top:584.65px">Feb-16</div><div class="sw" style="left:1479.2px;top:610.80px;background:#52c3b4"></div><div class="lt" style="left:1516.3px;top:610.10px">Feb-23</div><div class="sw" style="left:1479.2px;top:636.25px;background:#b9f7c0"></div><div class="lt" style="left:1516.3px;top:635.55px">Mar-02</div><div class="sw" style="left:1479.2px;top:661.70px;background:#90d195"></div><div class="lt" style="left:1516.3px;top:661.00px">Mar-09</div><div class="sw" style="left:1479.2px;top:687.15px;background:#67a86b"></div><div class="lt" style="left:1516.3px;top:686.45px">Mar-16</div><div class="sw" style="left:1479.2px;top:712.60px;background:#3f7a40"></div><div class="lt" style="left:1516.3px;top:711.90px">Mar-23</div><div class="sw" style="left:1479.2px;top:738.05px;background:#184f18"></div><div class="lt" style="left:1516.3px;top:737.35px">Mar-30</div><div class="sw" style="left:1479.2px;top:763.50px;background:#ccff00"></div><div class="lt" style="left:1516.3px;top:762.80px">Apr-07</div><div class="sw" style="left:1639.0px;top:407.20px;background:#a8ef00"></div><div class="lt" style="left:1675.2px;top:406.50px">Apr-14</div><div class="sw" style="left:1639.0px;top:432.65px;background:#7fde00"></div><div class="lt" style="left:1675.2px;top:431.95px">Apr-20</div><div class="sw" style="left:1639.0px;top:458.10px;background:#55cc00"></div><div class="lt" style="left:1675.2px;top:457.40px">Apr-28</div><div class="sw" style="left:1639.0px;top:483.55px;background:#ffff00"></div><div class="lt" style="left:1675.2px;top:482.85px">May-05</div><div class="sw" style="left:1639.0px;top:509.00px;background:#dddd00"></div><div class="lt" style="left:1675.2px;top:508.30px">May-12</div><div class="sw" style="left:1639.0px;top:534.45px;background:#bbab00"></div><div class="lt" style="left:1675.2px;top:533.75px">May-19</div><div class="sw" style="left:1639.0px;top:559.90px;background:#9b8000"></div><div class="lt" style="left:1675.2px;top:559.20px">May-26</div><div class="sw" style="left:1639.0px;top:585.35px;background:#fdd88f"></div><div class="lt" style="left:1675.2px;top:584.65px">Jun-02</div><div class="sw" style="left:1639.0px;top:610.80px;background:#fbc06e"></div><div class="lt" style="left:1675.2px;top:610.10px">Jun-09</div><div class="sw" style="left:1639.0px;top:636.25px;background:#f8a650"></div><div class="lt" style="left:1675.2px;top:635.55px">Jun-16</div><div class="sw" style="left:1639.0px;top:661.70px;background:#f69030"></div><div class="lt" style="left:1675.2px;top:661.00px">Jun-23</div><div class="sw" style="left:1639.0px;top:687.15px;background:#f57b12"></div><div class="lt" style="left:1675.2px;top:686.45px">Jun-30</div><div class="sw" style="left:1639.0px;top:712.60px;background:#f3cdcd"></div><div class="lt" style="left:1675.2px;top:711.90px">Jul-07</div><div class="sw" style="left:1639.0px;top:738.05px;background:#f29b9b"></div><div class="lt" style="left:1675.2px;top:737.35px">Jul-14</div><div class="sw" style="left:1639.0px;top:763.50px;background:#f06868"></div><div class="lt" style="left:1675.2px;top:762.80px">Jul-21</div><div class="sw" style="left:1765.7px;top:407.20px;background:#ff3535"></div><div class="lt" style="left:1802.2px;top:406.50px">Jul-28</div><div class="sw" style="left:1765.7px;top:432.65px;background:#e6b5ad"></div><div class="lt" style="left:1802.2px;top:431.95px">Aug-04</div><div class="sw" style="left:1765.7px;top:458.10px;background:#c98b80"></div><div class="lt" style="left:1802.2px;top:457.40px">Aug-11</div><div class="sw" style="left:1765.7px;top:483.55px;background:#b06555"></div><div class="lt" style="left:1802.2px;top:482.85px">Aug-17</div><div class="sw" style="left:1765.7px;top:509.00px;background:#964232"></div><div class="lt" style="left:1802.2px;top:508.30px">Aug-27</div><div class="sw" style="left:1765.7px;top:534.45px;background:#ffaadd"></div><div class="lt" style="left:1802.2px;top:533.75px">Sep-01</div><div class="sw" style="left:1765.7px;top:559.90px;background:#ff80dd"></div><div class="lt" style="left:1802.2px;top:559.20px">Sep-08</div><div class="sw" style="left:1765.7px;top:585.35px;background:#ff55dd"></div><div class="lt" style="left:1802.2px;top:584.65px">Sep-15</div><div class="sw" style="left:1765.7px;top:610.80px;background:#ff25e0"></div><div class="lt" style="left:1802.2px;top:610.10px">Sep-22</div><div class="sw" style="left:1765.7px;top:636.25px;background:#ff00ee"></div><div class="lt" style="left:1802.2px;top:635.55px">Sep-30</div><div class="sw" style="left:1765.7px;top:661.70px;background:#e0c0e8"></div><div class="lt" style="left:1802.2px;top:661.00px">Oct-07</div><div class="sw" style="left:1765.7px;top:687.15px;background:#cc99dd"></div><div class="lt" style="left:1802.2px;top:686.45px">Oct-15</div><div class="sw" style="left:1765.7px;top:712.60px;background:#b978cc"></div><div class="lt" style="left:1802.2px;top:711.90px">Oct-22</div>
</body></html>
